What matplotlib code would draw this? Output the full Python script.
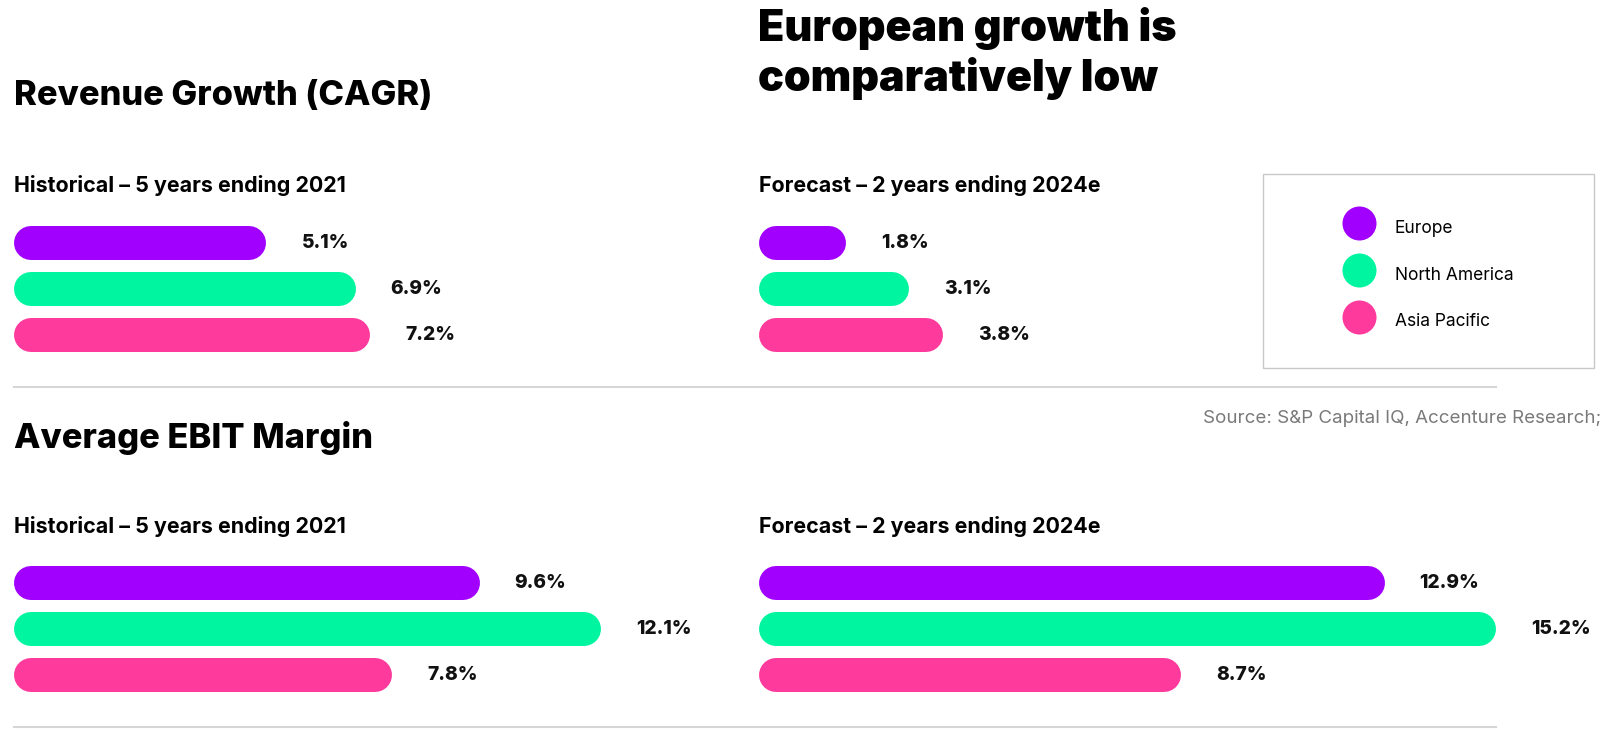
import matplotlib.pyplot as plt
from matplotlib.patches import Rectangle
from matplotlib.lines import Line2D

regions = ['Europe', 'North America', 'Asia Pacific']
colors = ['#a100ff', '#00f5a0', '#ff3a9d']

rev_hist = [5.1, 6.9, 7.2]
rev_fcst = [1.8, 3.1, 3.8]
ebit_hist = [9.6, 12.1, 7.8]
ebit_fcst = [12.9, 15.2, 8.7]

hist_label = 'Historical – 5 years ending 2021'
fcst_label = 'Forecast – 2 years ending 2024e'

W, H = 1606, 733
plt.rcParams['font.family'] = ['Inter', 'DejaVu Sans']
fig = plt.figure(figsize=(W / 100, H / 100), dpi=100)


def fx(px):
    return px / W


def fy(py):
    return 1 - py / H


ROW = 46  # px between bar centres
BAR = 34  # bar thickness in px


def panel(left, top, width, values, px_per_unit):
    ax = fig.add_axes([fx(left), fy(top + 3 * ROW), width / W, 3 * ROW / H])
    ax.set_xlim(0, width / px_per_unit)
    ax.set_ylim(2.5, -0.5)
    ax.axis('off')
    r = BAR / 2 / px_per_unit  # cap radius in data units
    for y, (v, c) in enumerate(zip(values, colors)):
        # round caps add r on each side, so the pill spans 0..v
        ax.plot([r, v - r], [y, y], color=c, lw=BAR * 72 / 100,
                solid_capstyle='round')
        ax.text(v + 35 / px_per_unit, y, f'{v}%', va='center', ha='left',
                fontsize=13.8, fontweight='heavy', color='#111111')
    return ax


panel(14, 219.5, 700, rev_hist, 49.5)
panel(759, 219.5, 840, rev_fcst, 48.5)
panel(14, 560, 700, ebit_hist, 48.5)
panel(759, 560, 840, ebit_fcst, 48.5)

# titles
fig.text(fx(758), fy(41), 'European growth is', fontsize=31, fontweight='black', va='baseline')
fig.text(fx(758), fy(91), 'comparatively low', fontsize=31, fontweight='black', va='baseline')
fig.text(fx(14), fy(105), 'Revenue Growth (CAGR)', fontsize=24.8, fontweight='heavy', va='baseline')
fig.text(fx(14), fy(448), 'Average EBIT Margin', fontsize=24.8, fontweight='heavy', va='baseline')
for yb in (192, 533):
    fig.text(fx(14), fy(yb), hist_label, fontsize=15.4, fontweight='bold', va='baseline')
    fig.text(fx(759), fy(yb), fcst_label, fontsize=15.4, fontweight='bold', va='baseline')

# separators
for yy in (387, 727):
    fig.add_artist(Line2D([fx(14), fx(1496)], [fy(yy), fy(yy)], color='#d6d6d6', lw=1.5))

fig.text(fx(1601), fy(423), 'Source: S&P Capital IQ, Accenture Research;', ha='right',
         va='baseline', fontsize=13.5, color='#7a7a7a')

# legend
fig.add_artist(Rectangle((fx(1263), fy(368)), (1594 - 1263) / W, 194 / H,
                         transform=fig.transFigure, fill=False, ec='#c8c8c8', lw=1))
handles = [Line2D([], [], ls='none', marker='o', ms=24.5, mfc=c, mec='none') for c in colors]
fig.legend(handles, regions, loc='upper left', bbox_to_anchor=(fx(1342), fy(214)),
           frameon=False, fontsize=12.5, handlelength=2, handleheight=2,
           labelspacing=1.15, handletextpad=1.03, borderpad=0, borderaxespad=0)

fig.savefig('out.png', dpi=100)
